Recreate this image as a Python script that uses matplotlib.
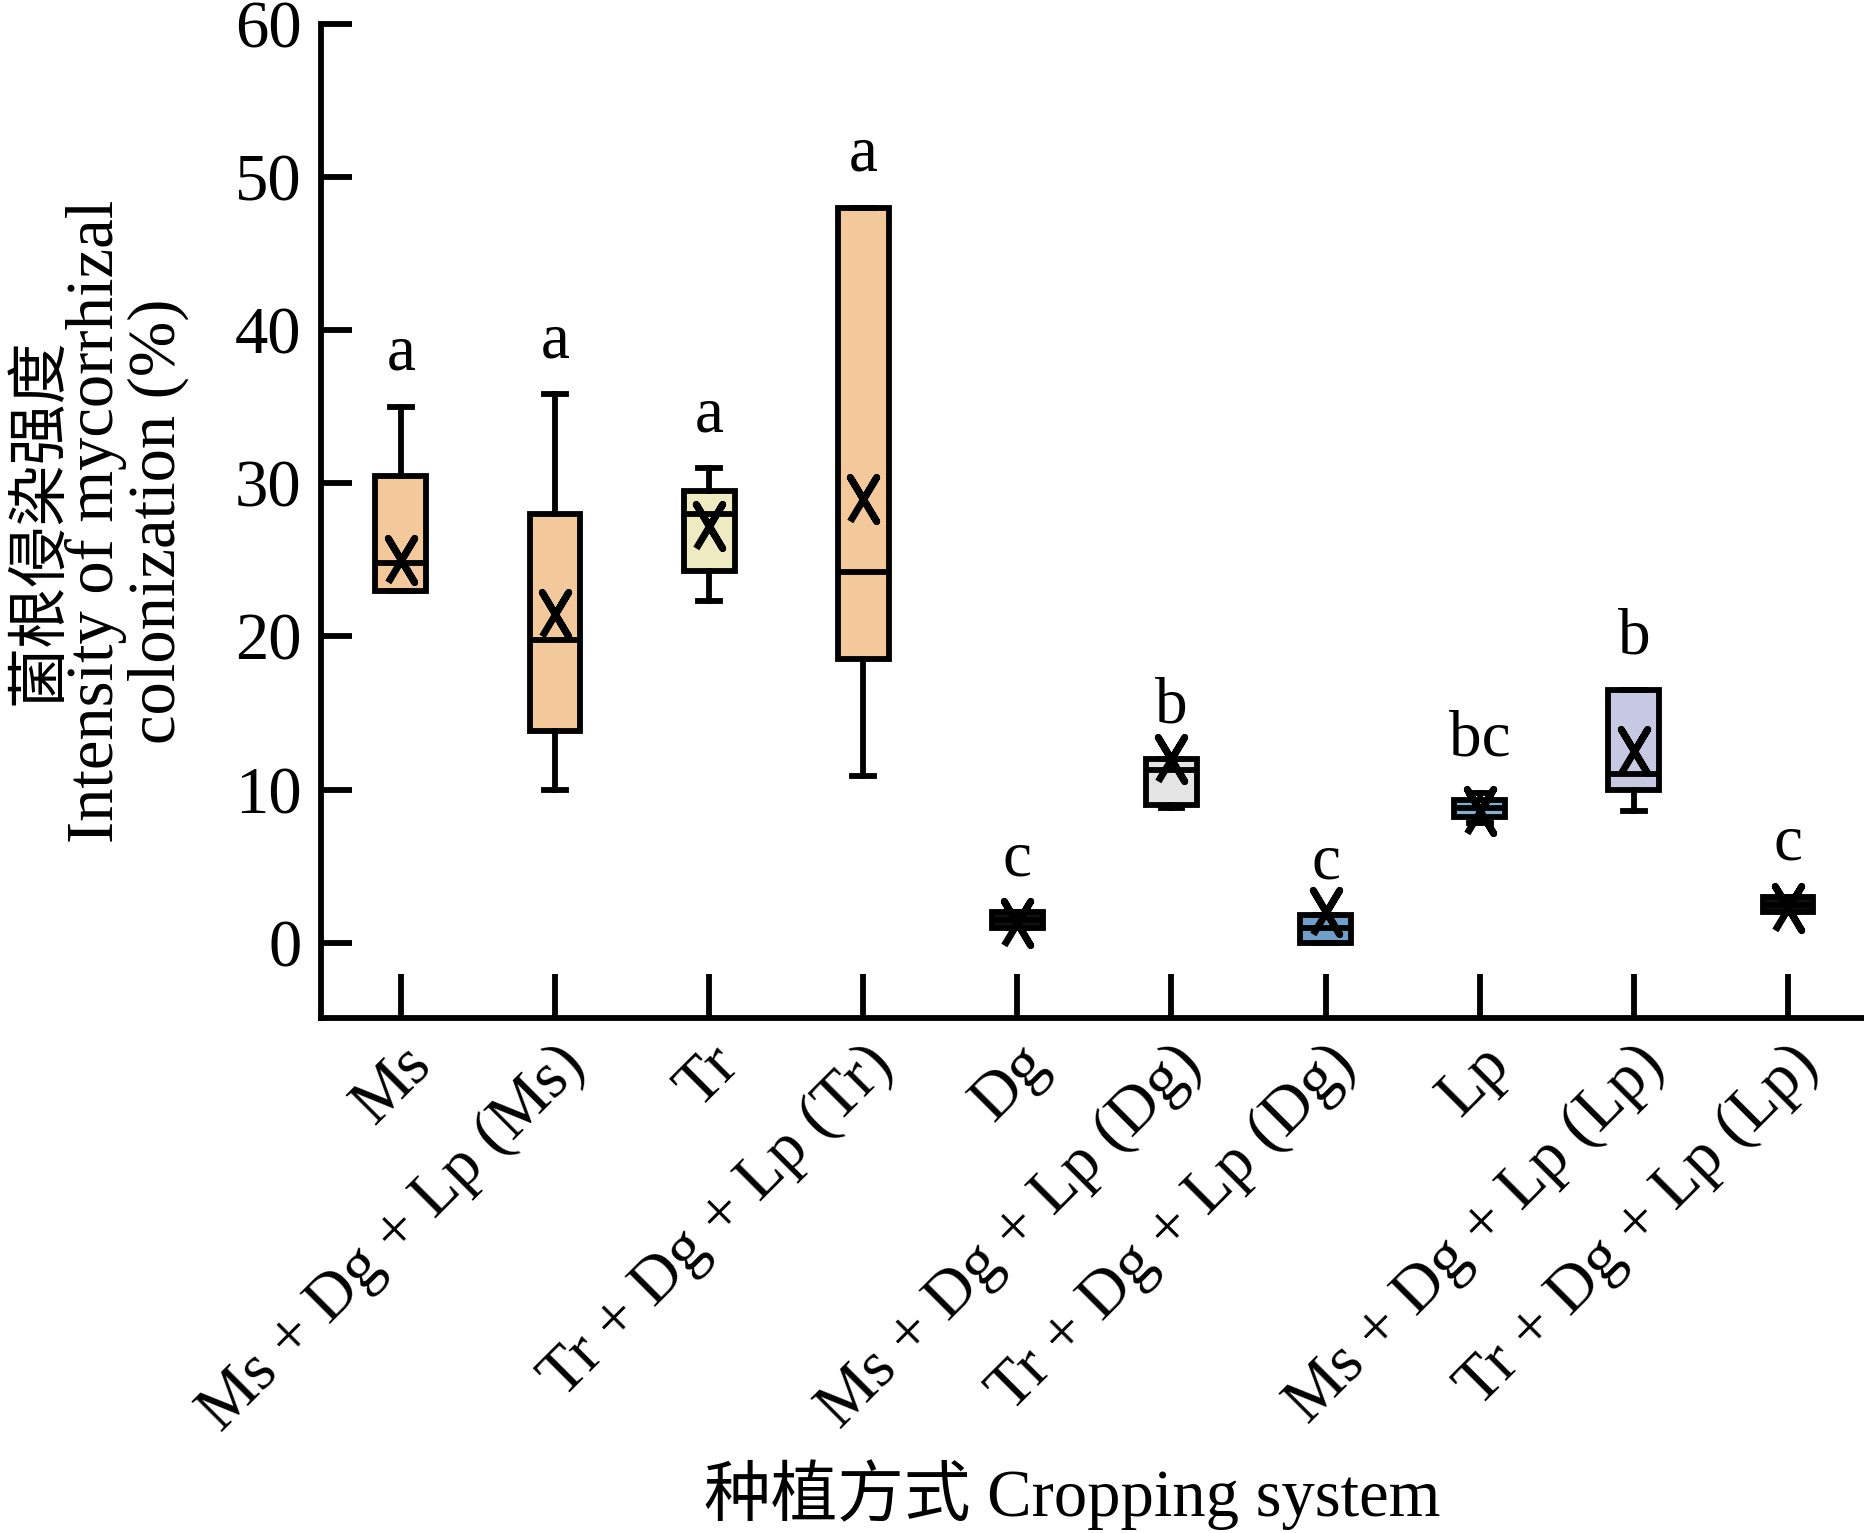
import matplotlib
matplotlib.use("Agg")
import matplotlib.pyplot as plt

cats = ["Ms", "Ms + Dg + Lp (Ms)", "Tr", "Tr + Dg + Lp (Tr)", "Dg", "Ms + Dg + Lp (Dg)",
        "Tr + Dg + Lp (Dg)", "Lp", "Ms + Dg + Lp (Lp)", "Tr + Dg + Lp (Lp)"]
whislo = [23.0, 10.0, 22.3, 10.9, 1.0, 8.8, 0.0, 7.8, 8.6, 2.0]
q1     = [23.0, 13.8, 24.3, 18.5, 1.0, 9.0, 0.0, 8.2, 10.0, 2.0]
med    = [24.8, 19.8, 28.0, 24.2, 1.5, 11.3, 1.0, 8.8, 11.0, 2.5]
q3     = [30.5, 28.0, 29.5, 48.0, 2.0, 12.0, 1.8, 9.3, 16.5, 3.0]
whishi = [35.0, 35.8, 31.0, 48.0, 2.0, 12.0, 1.8, 9.8, 16.5, 3.0]
means  = [25.0, 21.5, 27.2, 29.0, 1.3, 12.0, 2.0, 8.6, 12.5, 2.3]
letters = ["a", "a", "a", "a", "c", "b", "c", "bc", "b", "c"]
colors = ["#f3c89a", "#f3c89a", "#eeebc2", "#f3c89a", "#111111", "#e4e4e4",
          "#6f9fc8", "#7fb0d0", "#c7c9e2", "#111111"]

plt.rcParams['font.family'] = ['Liberation Serif', 'Noto Sans CJK SC']
fig = plt.figure(figsize=(18.65, 15.33), dpi=100)
ax = fig.add_axes([0.172, 0.336, 0.828, 0.6485])
lw = 4.2
stats = [dict(whislo=a, q1=b, med=c, q3=d, whishi=e, fliers=[]) for a, b, c, d, e in zip(whislo, q1, med, q3, whishi)]
bp = ax.bxp(stats, positions=range(10), widths=0.33, patch_artist=True, showfliers=False,
            boxprops=dict(linewidth=lw, edgecolor='black'),
            medianprops=dict(color='black', linewidth=lw),
            whiskerprops=dict(linewidth=lw), capprops=dict(linewidth=lw), capwidths=0.14)
for p, c in zip(bp['boxes'], colors):
    p.set_facecolor(c)
ax.scatter(range(10), means, marker=[(-0.6, -1), (0, 0), (-0.6, 1), (0, 0), (0.6, 1), (0, 0), (0.6, -1), (0, 0)],
           s=1000, color='black', linewidths=5, zorder=5)
for i, (t, top) in enumerate(zip(letters, whishi)):
    ax.text(i, top + 1.5, t, ha='center', va='bottom', fontsize=47)
ax.set_xlim(-0.52, 9.5)
ax.set_ylim(-4.9, 60)
ax.set_yticks(range(0, 61, 10))
ax.set_xticks(range(10))
ax.set_xticklabels(cats, rotation=45, ha='right', rotation_mode='anchor', fontsize=47)
ax.tick_params(axis='y', direction='in', length=22, width=lw, labelsize=48, pad=14)
ax.tick_params(axis='x', direction='in', length=32, width=lw, pad=12)
for s in ['top', 'right']:
    ax.spines[s].set_visible(False)
for s in ['left', 'bottom']:
    ax.spines[s].set_linewidth(lw)
fig.text(0.022, 0.66, "菌根侵染强度", rotation=90, ha='center', va='center', fontsize=44)
fig.text(0.068, 0.66, "Intensity of mycorrhizal\ncolonization (%)", rotation=90, ha='center', va='center',
         fontsize=48, linespacing=1.0)
fig.text(0.575, 0.025, "种植方式 Cropping system", ha='center', va='center', fontsize=48)
fig.savefig("out.png", dpi=100)
